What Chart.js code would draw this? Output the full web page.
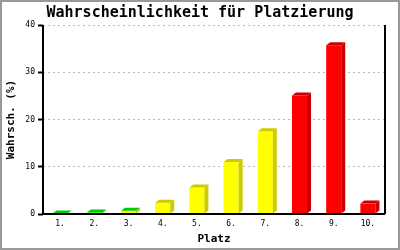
<!DOCTYPE html>
<html>
<head>
<meta charset="utf-8">
<script src="https://cdn.jsdelivr.net/npm/chart.js@4/dist/chart.umd.min.js"></script>
<style>
  html, body { margin: 0; padding: 0; background: #ffffff; }
  #myChart { display: block; }
</style>
</head>
<body>
<canvas id="myChart" width="400" height="250"></canvas>
<script>
const platzLabels = ["1.", "2.", "3.", "4.", "5.", "6.", "7.", "8.", "9.", "10."];
const wahrschWerte = [0.1, 0.3, 0.7, 2.4, 5.6, 11.0, 17.5, 25.1, 35.7, 2.2];
const frontFarben = ["#00ff00", "#00ff33", "#ffff00", "#ffff00", "#ffff00", "#ffff00", "#ffff00", "#ff0000", "#ff0000", "#ff0000"];
const seitenFarben = ["#00cc00", "#00cc00", "#cccc00", "#cccc00", "#cccc00", "#cccc00", "#cccc00", "#cc0000", "#cc0000", "#cc0000"];
const deckelFarben = ["#00cc00", "#00cc00", "#00cc00", "#cccc00", "#cccc00", "#cccc00", "#cccc00", "#cc0000", "#cc0000", "#cc0000"];
const yTicks = [0, 10, 20, 30, 40];

const schrift = "'DejaVu Sans Mono', 'Liberation Mono', monospace";

// hintergrund, achsen und rahmen
const rahmenPlugin = {
    id: "rahmen",
    beforeDraw(chart) {
        const ctx = chart.ctx;
        ctx.save();
        ctx.fillStyle = "#ffffff";
        ctx.fillRect(0, 0, chart.width, chart.height);
        ctx.restore();
    },
    afterDraw(chart) {
        const ctx = chart.ctx;
        const a = chart.chartArea;
        ctx.save();
        ctx.strokeStyle = "#000000";
        ctx.lineWidth = 2;
        ctx.setLineDash([]);
        ctx.beginPath();
        ctx.moveTo(a.left, a.top);
        ctx.lineTo(a.left, a.bottom);
        ctx.lineTo(a.right, a.bottom);
        ctx.moveTo(a.right, a.top);
        ctx.lineTo(a.right, a.bottom);
        ctx.stroke();
        ctx.strokeStyle = "#999999";
        ctx.strokeRect(1, 1, chart.width - 2, chart.height - 2);
        ctx.restore();
    }
};

// 3D effekt: seite und deckel
const tiefePlugin = {
    id: "tiefe",
    afterDatasetsDraw(chart) {
        const ctx = chart.ctx;
        const meta = chart.getDatasetMeta(0);
        const dx = 4;
        const dy = 3;
        ctx.save();
        meta.data.forEach((bar, i) => {
            const p = bar.getProps(["x", "y", "base", "width"], true);
            const links = p.x - p.width / 2;
            const rechts = p.x + p.width / 2;
            ctx.fillStyle = seitenFarben[i];
            ctx.beginPath();
            ctx.moveTo(rechts, p.y);
            ctx.lineTo(rechts + dx, p.y - dy);
            ctx.lineTo(rechts + dx, p.base - dy);
            ctx.lineTo(rechts, p.base);
            ctx.closePath();
            ctx.fill();
            ctx.fillStyle = deckelFarben[i];
            ctx.beginPath();
            ctx.moveTo(links, p.y);
            ctx.lineTo(links + dx, p.y - dy);
            ctx.lineTo(rechts + dx, p.y - dy);
            ctx.lineTo(rechts, p.y);
            ctx.closePath();
            ctx.fill();
        });
        ctx.restore();
    }
};

function ladeGrafik() {
    const myChart = document.getElementById("myChart");
    const config = {
        type: "bar",
        data: {
            labels: platzLabels,
            datasets: [
                {
                    data: wahrschWerte,
                    backgroundColor: frontFarben,
                    borderWidth: 0,
                    barPercentage: 0.44,
                    categoryPercentage: 1.0
                }
            ]
        },
        options: {
            responsive: false,
            animation: false,
            devicePixelRatio: 1,
            layout: { padding: 0 },
            plugins: {
                legend: { display: false },
                tooltip: { enabled: false },
                title: {
                    display: true,
                    text: "Wahrscheinlichkeit für Platzierung",
                    color: "#000000",
                    font: { family: schrift, size: 15, weight: "bold", lineHeight: 1.2 },
                    padding: { top: 4, bottom: 3 }
                }
            },
            scales: {
                x: {
                    grid: { display: false, drawTicks: false },
                    border: { display: false },
                    ticks: { color: "#000000", font: { family: schrift, size: 8 }, padding: 5, maxRotation: 0 },
                    title: {
                        display: true,
                        text: "Platz",
                        color: "#000000",
                        font: { family: schrift, size: 11, weight: "bold" },
                        padding: { top: 2, bottom: 4 }
                    },
                    afterFit(scale) { scale.height = 36; }
                },
                y: {
                    min: 0,
                    max: 40,
                    afterBuildTicks(scale) { scale.ticks = yTicks.map(v => ({ value: v })); },
                    grid: {
                        color: "#bbbbbb",
                        tickColor: "#000000",
                        tickBorderDash: [0, 0],
                        tickLength: 5,
                        tickWidth: 2,
                        lineWidth: 1
                    },
                    border: { display: false, dash: [2, 3] },
                    ticks: { color: "#000000", font: { family: schrift, size: 8 }, padding: 3 },
                    title: {
                        display: true,
                        text: "Wahrsch. (%)",
                        color: "#000000",
                        font: { family: schrift, size: 11, weight: "bold" },
                        padding: { top: 5, bottom: 0 }
                    },
                    afterFit(scale) { scale.width = 43; }
                },
                rechts: {
                    position: "right",
                    display: true,
                    grid: { display: false },
                    border: { display: false },
                    ticks: { display: false },
                    afterFit(scale) { scale.width = 15; }
                }
            }
        },
        plugins: [rahmenPlugin, tiefePlugin]
    };
    new Chart(myChart, config);
}
ladeGrafik();
</script>
</body>
</html>
